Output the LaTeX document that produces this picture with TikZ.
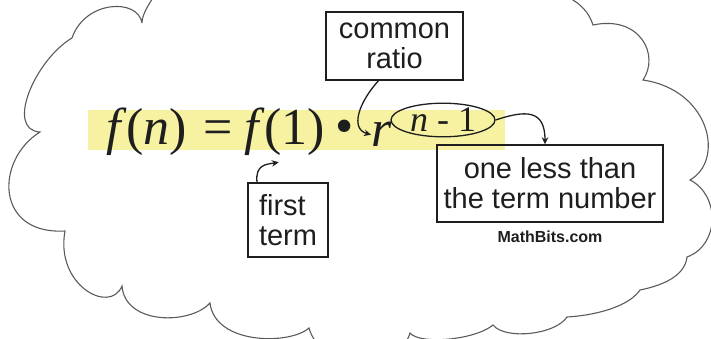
\documentclass[tikz,border=0pt]{standalone}
\usepackage{fontspec}
\setmainfont{Liberation Serif}
\newfontfamily\labelfont{Liberation Sans}
\usetikzlibrary{arrows.meta,positioning,shapes.geometric}
\definecolor{hlYellow}{HTML}{F6F2A2}
\definecolor{cloudGray}{HTML}{5A5A5A}
\definecolor{inkBlack}{HTML}{1E1E1E}

\begin{document}
\begin{tikzpicture}[x=1pt, y=-1pt,
  lbox/.style={draw=inkBlack, line width=1.4pt, inner sep=0pt, align=center, text=inkBlack, font=\labelfont\fontsize{29}{30}\selectfont},
  eqn/.style={inner sep=0pt, text=inkBlack, font=\fontsize{52}{52}\selectfont},
  arr/.style={-{Stealth[length=7pt,width=6.5pt]}, line width=1.3pt, inkBlack},
  cloud/.style={draw=cloudGray, line width=1.1pt}]
\useasboundingbox (0,0) rectangle (711,339);
\clip (0,0) rectangle (711,339);
% cloud outline
\draw[cloud] (142,23) .. controls (138,-2) and (85,0) .. (72,38)
  .. controls (35,60) and (5,130) .. (40,132)
  .. controls (-5,160) and (-5,235) .. (65,231)
  .. controls (55,285) and (110,315) .. (122,286)
  .. controls (125,325) and (190,325) .. (210,303)
  .. controls (215,345) and (290,345) .. (309,328)
  .. controls (320,370) and (400,370) .. (410,333)
  .. controls (420,345) and (475,340) .. (493,325)
  .. controls (505,340) and (555,335) .. (567,317)
  .. controls (600,315) and (630,305) .. (640,290)
  .. controls (665,285) and (685,275) .. (687,257)
  .. controls (720,245) and (720,195) .. (690,180)
  .. controls (725,160) and (710,90) .. (643,80)
  .. controls (660,55) and (640,15) .. (593,25)
  .. controls (585,0) and (560,-10) .. (520,-15)
  .. controls (400,-40) and (180,-40) .. (155,-5)
  .. controls (148,5) and (142,15) .. (142,23);
% highlighted formula
\fill[hlYellow] (88,110) rectangle (505,150);
\node[eqn, anchor=base west] (lhs) at (106,145) {\textit{f}(\textit{n})};
\node[eqn, anchor=base] (eq) at (218,145) {=};
\node[eqn, anchor=base west] (fone) at (244,145) {\textit{f}(1)};
\node[eqn] (dot) at (345,132) {•};
\node[eqn, anchor=base west] (rr) at (371,147) {\textit{r}};
\node[ellipse, draw=inkBlack, line width=1.3pt, inner sep=0pt, minimum width=104pt, minimum height=30pt,
  text=inkBlack, font=\fontsize{36}{36}\selectfont] (expo) at (443,120) {\textit{n} - 1};
% labels
\node[lbox, minimum width=137pt, minimum height=68pt] (ratio) at (394.5,46) {common\\ratio};
\node[lbox, minimum width=80pt, minimum height=74pt, align=left] (first) at (288,220) {first\\term};
\node[lbox, minimum width=226pt, minimum height=77pt] (less) at (550,183.5) {one less than\\the term number};
\node[inner sep=0pt, text=inkBlack, font=\labelfont\bfseries\fontsize{16}{16}\selectfont, below=8pt of less] (credit) {MathBits.com};
% arrows
\draw[arr] ([xshift=-16pt]ratio.south) .. controls +(-20,22) and +(-21,-6) .. (rr.west);
\draw[arr] ([xshift=-31pt]first.north) .. controls +(-2,-18) and +(-12,2) .. ([shift={(-6pt,-6pt)}]fone.south);
\draw[arr] (expo.east) .. controls +(30,-10) and +(0,-35) .. ([xshift=-5pt]less.north);
\end{tikzpicture}
\end{document}
